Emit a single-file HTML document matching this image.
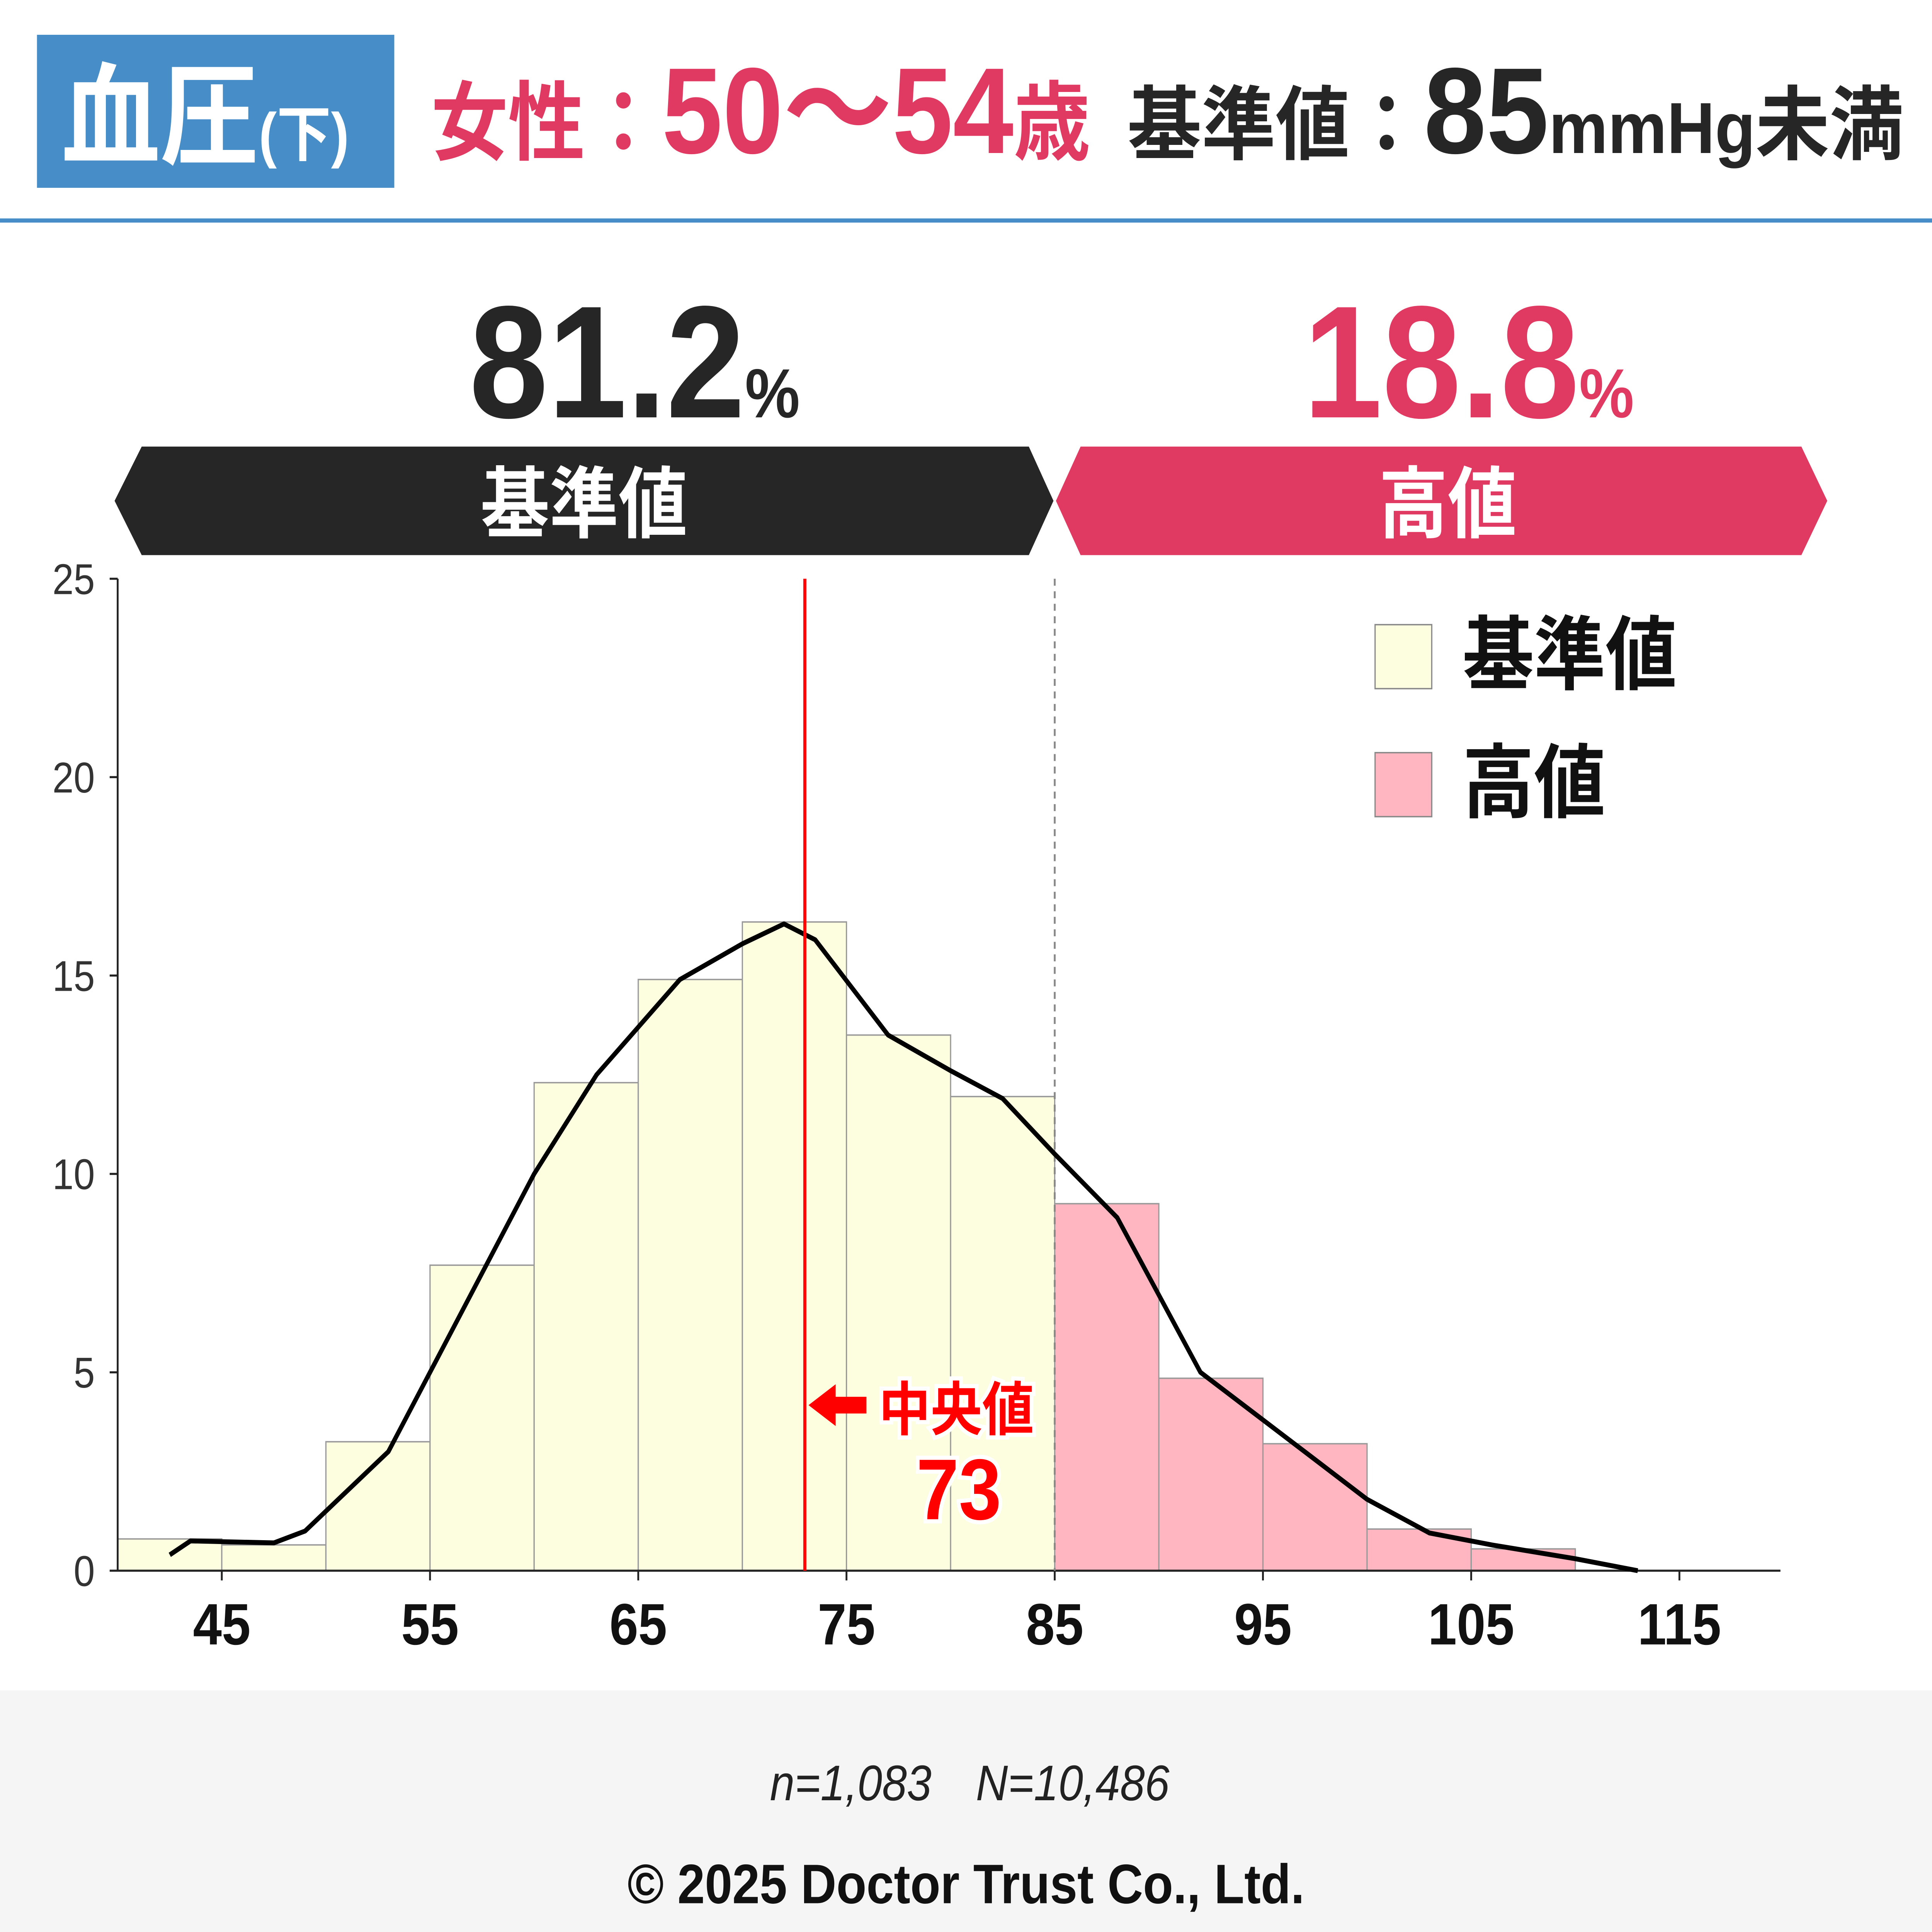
<!DOCTYPE html>
<html><head><meta charset="utf-8"><style>
html,body{margin:0;padding:0;background:#fff;width:100vw;height:100vh;overflow:hidden}
svg{display:block;width:100vw;height:100vh}
text{font-family:"Liberation Sans","Noto Sans CJK JP",sans-serif}
</style></head><body>
<svg id="chart" viewBox="0 0 1568 1388.7" preserveAspectRatio="none" xmlns="http://www.w3.org/2000/svg">
<rect x="0" y="0" width="1568" height="1389" fill="#fff"/>
<g>
<rect x="30" y="25" width="290" height="110" fill="#478ec8"/>
<text x="50" y="112" font-size="80" font-weight="bold" fill="#fff">血圧<tspan font-size="44">(下)</tspan></text>
<text x="350" y="110" font-size="62" font-weight="bold" fill="#e03a63" textLength="535" lengthAdjust="spacingAndGlyphs">女性：<tspan font-size="88">50〜54</tspan>歳</text>
<text x="915" y="110" font-size="58" font-weight="bold" fill="#262626" textLength="630" lengthAdjust="spacingAndGlyphs">基準値：<tspan font-size="88">85</tspan><tspan font-size="52">mmHg</tspan>未満</text>
<rect x="0" y="157" width="1568" height="3" fill="#478ec8"/>
</g>
<g>
<text x="515" y="300" text-anchor="middle" font-size="115" font-weight="bold" fill="#262626">81.2<tspan font-size="50">%</tspan></text>
<text x="1192" y="300" text-anchor="middle" font-size="115" font-weight="bold" fill="#e03a63">18.8<tspan font-size="50">%</tspan></text>
<polygon points="115,321 835,321 855,360 835,399 115,399 93,360" fill="#262626"/>
<text x="474" y="382" text-anchor="middle" font-size="56" font-weight="bold" fill="#fff">基準値</text>
<polygon points="877,321 1462,321 1483,360 1462,399 877,399 857,360" fill="#e03a63"/>
<text x="1175" y="382" text-anchor="middle" font-size="56" font-weight="bold" fill="#fff">高値</text>
</g>
<g id="plot"></g>
<g>
<rect x="1116" y="449" width="46" height="46" fill="#fdfde0" stroke="#888" stroke-width="1"/>
<text x="1187" y="491" font-size="58" font-weight="bold" fill="#111">基準値</text>
<rect x="1116" y="541" width="46" height="46" fill="#ffb6c1" stroke="#888" stroke-width="1"/>
<text x="1187" y="583" font-size="58" font-weight="bold" fill="#111">高値</text>
</g>
<g>
<rect x="0" y="1215" width="1568" height="174" fill="#f5f5f5"/>
<text x="787" y="1294" text-anchor="middle" font-size="36" font-style="italic" fill="#222">n=1,083　N=10,486</text>
<text x="784" y="1368" text-anchor="middle" font-size="40" font-weight="bold" fill="#111">© 2025 Doctor Trust Co., Ltd.</text>
</g>
</svg>
<script>
const binStarts = [40,45,50,55,60,65,70,75,80,85,90,95,100,105];
const binValues = [0.8,0.65,3.25,7.7,12.3,14.9,16.35,13.5,11.95,9.25,4.85,3.2,1.05,0.55];
const curveX = [42.5,43.5,47.5,49,53,55,60,63,65,67,70,72,73.5,77,80,82.5,85,88,92,94,97,100,103,106,110,113];
const curveY = [0.4,0.75,0.7,1.0,3.0,5.0,10.0,12.5,13.7,14.9,15.8,16.3,15.9,13.5,12.6,11.9,10.5,8.9,5.0,4.2,3.0,1.8,0.95,0.65,0.3,0.0];
const yTicks = [0,5,10,15,20,25];
const xTicks = [45,55,65,75,85,95,105,115];
const median = 73;
const threshold = 85;
const binWidth = 5;

const NS = "http://www.w3.org/2000/svg";
const plot = document.getElementById('plot');
const xs = v => 95.5 + (v - 40) * 16.9;
const ys = v => 1129 - v * 28.52;
function mk(tag, attrs, parent) {
  const e = document.createElementNS(NS, tag);
  for (const k in attrs) e.setAttribute(k, attrs[k]);
  (parent || plot).appendChild(e);
  return e;
}
binStarts.forEach((b, i) => {
  const r = mk('rect', {x: xs(b), y: ys(binValues[i]), width: xs(b + binWidth) - xs(b), height: ys(0) - ys(binValues[i]),
    fill: b >= threshold ? '#ffb6c1' : '#fdfde0', stroke: '#999', 'stroke-width': 1});
  
  
});
const ya = mk('line', {x1: 95.5, y1: ys(25), x2: 95.5, y2: ys(0), stroke: '#222', 'stroke-width': 1.5});


const xa = mk('line', {x1: 95.5, y1: ys(0), x2: 1445, y2: ys(0), stroke: '#222', 'stroke-width': 1.5});


yTicks.forEach(t => {
  const l = mk('line', {x1: 89, y1: ys(t), x2: 95.5, y2: ys(t), stroke: '#222', 'stroke-width': 1.5});
  
  
  const tx = mk('text', {x: 77, y: ys(t) + 11, 'text-anchor': 'end', 'font-size': 31, fill: '#333'});
  tx.textContent = t;
  
  
});
xTicks.forEach(t => {
  const l = mk('line', {x1: xs(t), y1: ys(0), x2: xs(t), y2: ys(0) + 7, stroke: '#222', 'stroke-width': 1.5});
  
  
  const tx = mk('text', {x: xs(t), y: 1182, 'text-anchor': 'middle', 'font-size': 42, 'font-weight': 'bold', fill: '#111'});
  tx.textContent = t;
  
  
});
const th = mk('line', {x1: xs(threshold), y1: ys(25), x2: xs(threshold), y2: ys(0), stroke: '#888', 'stroke-width': 1.5, 'stroke-dasharray': '5,4'});


let d = '';
curveX.forEach((x, i) => { d += (i ? 'L' : 'M') + xs(x).toFixed(1) + ',' + ys(curveY[i]).toFixed(1); });
const c = mk('path', {d: d, fill: 'none', stroke: '#000', 'stroke-width': 3.5, 'stroke-linejoin': 'round'});


const ml = mk('line', {x1: xs(median), y1: ys(25), x2: xs(median), y2: ys(0), stroke: '#f00', 'stroke-width': 2.5});


const ar = mk('polygon', {points: `${xs(median)+3},1010 ${xs(median)+25},995 ${xs(median)+25},1004 ${xs(median)+50},1004 ${xs(median)+50},1016 ${xs(median)+25},1016 ${xs(median)+25},1025`, fill: '#f00'});


const mt = mk('text', {x: xs(median) + 60, y: 1028, 'font-size': 42, 'font-weight': 'bold', fill: '#f00', stroke: '#fff', 'stroke-width': 6, 'paint-order': 'stroke'});
mt.textContent = '中央値';


const mv = mk('text', {x: xs(median) + 125, y: 1092, 'text-anchor': 'middle', 'font-size': 62, 'font-weight': 'bold', fill: '#f00', stroke: '#fff', 'stroke-width': 6, 'paint-order': 'stroke'});
mv.textContent = median;


</script>
</body></html>
